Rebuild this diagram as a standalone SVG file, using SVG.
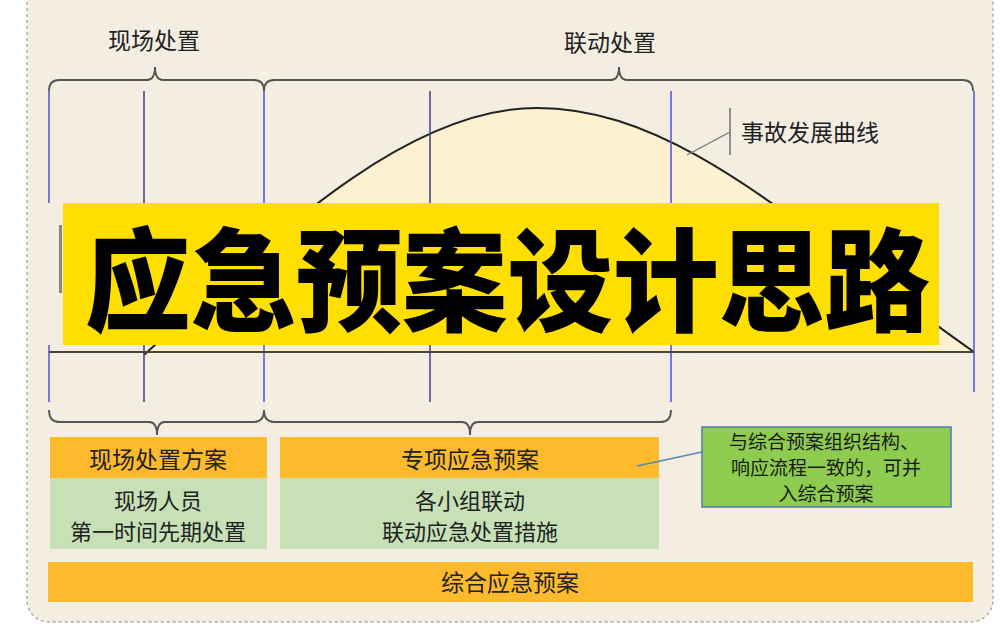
<svg xmlns="http://www.w3.org/2000/svg" width="1004" height="627" viewBox="0 0 1004 627">
<style>
.t{font-family:"Noto Sans CJK SC","Noto Sans",sans-serif;fill:#222;text-anchor:middle}
.vb{stroke:#5a5ae0;stroke-width:1.6}
.vd{stroke:#4a4a90;stroke-width:1.6}
.br{fill:none;stroke:#555;stroke-width:1.8}
.or{fill:#fcba2c}
.gr{fill:#c7e0b6}
</style>
<rect width="1004" height="627" fill="#fff"/>
<rect x="27" y="-30" width="966" height="652" rx="22" fill="#f3ede2" stroke="#aaa" stroke-width="1.4" stroke-dasharray="3,3"/>
<g id="curve">
<path d="M144,355 C260,250 400,108 537,108 C680,108 800,230 974,352 Z" fill="#fdf1cf"/>
<path d="M144,355 C260,250 400,108 537,108 C680,108 800,230 974,352" fill="none" stroke="#222" stroke-width="2"/>
</g>
<g id="label-top">
<text class="t" x="154" y="49" font-size="23">现场处置</text>
<text class="t" x="610" y="51" font-size="23">联动处置</text>
<text class="t" x="741" y="141" font-size="23" style="text-anchor:start">事故发展曲线</text>
</g>
<rect x="59" y="225" width="3" height="68" fill="#888"/>
<g id="title">
<rect x="63" y="203" width="876" height="142" fill="#ffdf00"/>
<text class="t" x="85" y="323" font-size="112" font-weight="900" style="text-anchor:start;fill:#000" textLength="845" lengthAdjust="spacingAndGlyphs">应急预案设计思路</text>
</g>
<g id="node-onsite">
<rect class="or" x="50" y="437" width="217" height="41"/>
<rect class="gr" x="50" y="478" width="217" height="71"/>
<text class="t" x="158" y="468" font-size="23">现场处置方案</text>
<text class="t" x="158" y="509" font-size="22">现场人员</text>
<text class="t" x="158" y="540" font-size="22">第一时间先期处置</text>
</g>
<g id="node-special">
<rect class="or" x="280" y="437" width="379" height="41"/>
<rect class="gr" x="280" y="478" width="379" height="71"/>
<text class="t" x="470" y="468" font-size="23">专项应急预案</text>
<text class="t" x="470" y="509" font-size="22">各小组联动</text>
<text class="t" x="470" y="540" font-size="22">联动应急处置措施</text>
</g>
<g id="node-note">
<rect x="702" y="427" width="249" height="80" fill="#8dcc4e" stroke="#5b7fb0" stroke-width="1.6"/>
<text class="t" x="824" y="449" font-size="19" style="fill:#1a1a1a">与综合预案组织结构、</text>
<text class="t" x="826" y="475" font-size="19" style="fill:#1a1a1a">响应流程一致的，可并</text>
<text class="t" x="826" y="501" font-size="19" style="fill:#1a1a1a">入综合预案</text>
</g>
<g id="node-general">
<rect class="or" x="48" y="562" width="925" height="40"/>
<text class="t" x="510" y="591" font-size="23">综合应急预案</text>
</g>
<g id="connectors">
<line class="vb" x1="49" y1="91" x2="49" y2="203"/>
<line class="vb" x1="49" y1="345" x2="49" y2="402"/>
<line class="vd" x1="144" y1="91" x2="144" y2="203"/>
<line class="vd" x1="144" y1="345" x2="144" y2="402"/>
<line class="vb" x1="264" y1="91" x2="264" y2="203"/>
<line class="vb" x1="264" y1="345" x2="264" y2="402"/>
<line class="vd" x1="430" y1="91" x2="430" y2="203"/>
<line class="vd" x1="430" y1="345" x2="430" y2="402"/>
<line class="vb" x1="671" y1="91" x2="671" y2="203"/>
<line class="vb" x1="671" y1="345" x2="671" y2="402"/>
<line class="vb" x1="974" y1="91" x2="974" y2="392"/>
<line x1="49" y1="352" x2="974" y2="352" stroke="#444" stroke-width="2"/>
<path class="br" d="M49,91 Q49,80 59,80 L147,80 Q155,80 155,67 Q155,80 163,80 L254,80 Q264,80 264,91"/>
<path class="br" d="M264,91 Q264,80 274,80 L611,80 Q619,80 619,67 Q619,80 627,80 L963,80 Q973,80 973,91"/>
<path class="br" d="M49,410 Q49,422 59,422 L149,422 Q157,422 157,435 Q157,422 165,422 L254,422 Q264,422 264,410"/>
<path class="br" d="M264,410 Q264,422 274,422 L462,422 Q470,422 470,435 Q470,422 478,422 L661,422 Q671,422 671,410"/>
<polyline points="687,155 730,132" fill="none" stroke="#777" stroke-width="1.4"/>
<line x1="730" y1="108" x2="730" y2="155" stroke="#777" stroke-width="1.6"/>
<line x1="637" y1="466" x2="702" y2="452" stroke="#5b86b8" stroke-width="1.6"/>
</g>
</svg>
